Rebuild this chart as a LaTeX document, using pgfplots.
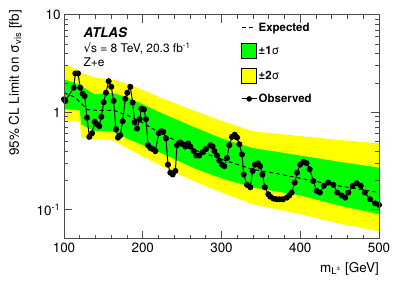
\documentclass[border=0pt]{standalone}
\usepackage{fontspec}
\setmainfont{TeX Gyre Heros}
\newfontfamily\dejavu{DejaVu Sans}
\usepackage{pgfplots}
\usepackage{pgfplotstable}
\pgfplotsset{compat=1.18}
\usepgfplotslibrary{fillbetween}
\definecolor{rootgreen}{rgb}{0,1,0}
\definecolor{rootyellow}{rgb}{1,1,0}

% expected-limit bands: -2s, -1s, +1s, +2s
\pgfplotstableread{
m    y2d   y1d   y1u   y2u
100  0.82  1.07  2.18  3.10
110  0.82  1.07  2.05  2.90
120  0.80  1.05  1.92  2.65
122  0.55  0.75  1.85  2.55
139  0.53  0.64  1.53  2.27
161  0.52  0.64  1.59  2.18
182  0.42  0.53  1.41  1.95
224  0.28  0.38  0.98  1.40
266  0.195 0.265 0.70  1.03
300  0.150 0.210 0.54  0.82
339  0.114 0.170 0.43  0.64
400  0.090 0.140 0.36  0.57
450  0.072 0.110 0.31  0.52
500  0.060 0.090 0.27  0.48
}\bands

\pgfplotstableread{
m    exp
100  1.59
114  1.43
123  1.21
129  1.07
140  1.05
163  1.05
182  0.92
200  0.78
224  0.60
245  0.50
266  0.41
300  0.33
339  0.26
370  0.235
400  0.21
420  0.195
450  0.175
480  0.16
500  0.15
}\expected

\pgfplotstableread{
m     obs
100   1.36
101.7 1.31
112.3 1.79
114.4 2.51
117.8 2.51
120.7 1.79
123.7 1.55
126.2 1.47
129.2 0.88
132.2 0.56
135.6 0.61
139   0.80
142   0.75
144.8 0.72
147.4 0.90
150.4 1.27
153.3 1.59
156.7 2.09
160   1.83
163   1.31
166   0.67
168.6 0.55
171.5 0.58
174.5 0.81
177.8 1.38
180.4 1.59
184.2 1.83
187.2 1.26
189.7 0.79
192.7 0.68
196.1 0.85
198.2 1.09
201.6 1.07
204.1 0.85
206.7 0.46
209.6 0.43
212.4 0.42
216   0.40
220.3 0.61
223.6 0.64
226   0.63
229.5 0.54
232   0.29
235   0.24
238   0.23
241.4 0.25
243.5 0.46
247.7 0.49
250.7 0.47
254   0.445
257.5 0.48
260.4 0.445
264.7 0.40
268   0.36
271.8 0.36
276.1 0.39
280.3 0.42
285.8 0.46
288.8 0.445
291   0.40
294.3 0.36
297.2 0.32
300.6 0.29
303.6 0.28
307   0.34
309.9 0.46
313.3 0.56
316.7 0.59
319.7 0.55
322.6 0.47
326   0.37
328.2 0.23
332.4 0.18
336.6 0.17
339.6 0.25
342.5 0.29
346   0.30
349   0.28
352   0.23
355   0.17
359.5 0.144
362   0.136
366   0.13
370   0.128
374   0.128
378   0.128
383   0.133
386   0.14
389   0.15
393   0.19
396   0.24
400   0.29
404   0.31
408   0.30
412   0.26
416.6 0.197
420.8 0.156
425   0.15
430   0.176
435.6 0.19
442   0.18
447   0.15
452.6 0.14
457   0.133
461   0.15
466.6 0.176
471.7 0.187
476.8 0.176
482   0.15
488.6 0.128
495   0.116
500   0.112
}\observed

\begin{document}
\begin{tikzpicture}
\begin{axis}[
  at={(64bp,47bp)}, anchor=south west,
  width=315bp, height=224bp, scale only axis,
  xmin=100, xmax=500,
  ymode=log, ymin=0.05, ymax=10,
  xtick={100,200,300,400,500},
  xticklabels={100,200,300,400,500},
  minor x tick num=4,
  ytick={0.1,1,10},
  yticklabels={10\textsuperscript{-1},1,10},
  tick align=inside, tick pos=both,
  major tick length=8bp, minor tick length=4bp,
  axis line style={black!70, line width=1bp},
  every tick/.style={black!70, line width=1bp},
  ticklabel style={font=\fontsize{13.5}{15}\selectfont},
  axis on top,
  legend style={at={(axis description cs:0.562,0.972)}, anchor=north west,
    draw=none, fill=none, inner sep=0pt, row sep=8.5bp,
    font=\bfseries\fontsize{11.5}{13}\selectfont,
    nodes={inner sep=1.5bp}, cells={anchor=west}},
]
\addlegendimage{legend image code/.code={\draw[black, line width=1bp, dash pattern=on 4bp off 3bp] (0bp,0bp) -- (12bp,0bp);}}
\addlegendentry{Expected}
\addlegendimage{legend image code/.code={\draw[fill=rootgreen, draw=black, line width=0.8bp] (0bp,-7.5bp) rectangle (15bp,8bp);}}
\addlegendentry{±1{\mdseries σ}}
\addlegendimage{legend image code/.code={\draw[fill=rootyellow, draw=black, line width=0.8bp] (0bp,-7.5bp) rectangle (15bp,8bp);}}
\addlegendentry{±2{\mdseries σ}}
\addlegendimage{legend image code/.code={\draw[black, line width=1bp] (0bp,0bp) -- (15bp,0bp); \fill[black] (7.5bp,0bp) circle (2.5bp);}}
\addlegendentry{Observed}

\addplot[name path=y2u, draw=none, forget plot] table[x=m, y=y2u] {\bands};
\addplot[name path=y2d, draw=none, forget plot] table[x=m, y=y2d] {\bands};
\addplot[name path=y1u, draw=none, forget plot] table[x=m, y=y1u] {\bands};
\addplot[name path=y1d, draw=none, forget plot] table[x=m, y=y1d] {\bands};
\addplot[rootyellow, forget plot] fill between[of=y2u and y2d];
\addplot[rootgreen, forget plot] fill between[of=y1u and y1d];
\addplot[black, line width=1bp, dash pattern=on 4bp off 3bp, forget plot] table[x=m, y=exp] {\expected};
\addplot[black, line width=1bp, mark=*, mark size=2.5bp, forget plot] table[x=m, y=obs] {\observed};
\end{axis}
\node[anchor=base west, font=\bfseries\itshape\fontsize{13.5}{15}\selectfont] at (80bp,248bp) {ATLAS};
\node[anchor=base west, font=\fontsize{12}{14}\selectfont] at (80bp,233bp) {{\dejavu √}s = 8 TeV, 20.3 fb\textsuperscript{-1}};
\node[anchor=base west, font=\fontsize{12}{14}\selectfont] at (80bp,219bp) {Z+e};
\node[rotate=90, anchor=south east, inner sep=0pt, font=\fontsize{13.5}{15}\selectfont] at (22bp,276bp) {95\% CL Limit on σ\textsubscript{vis} [fb]};
\node[anchor=base east, inner sep=0pt, font=\fontsize{13.5}{15}\selectfont] at (379bp,14bp) {m\textsubscript{L\textsuperscript{±}} [GeV]};
\path (0,0) rectangle (399bp,286bp);
\end{tikzpicture}
\end{document}
